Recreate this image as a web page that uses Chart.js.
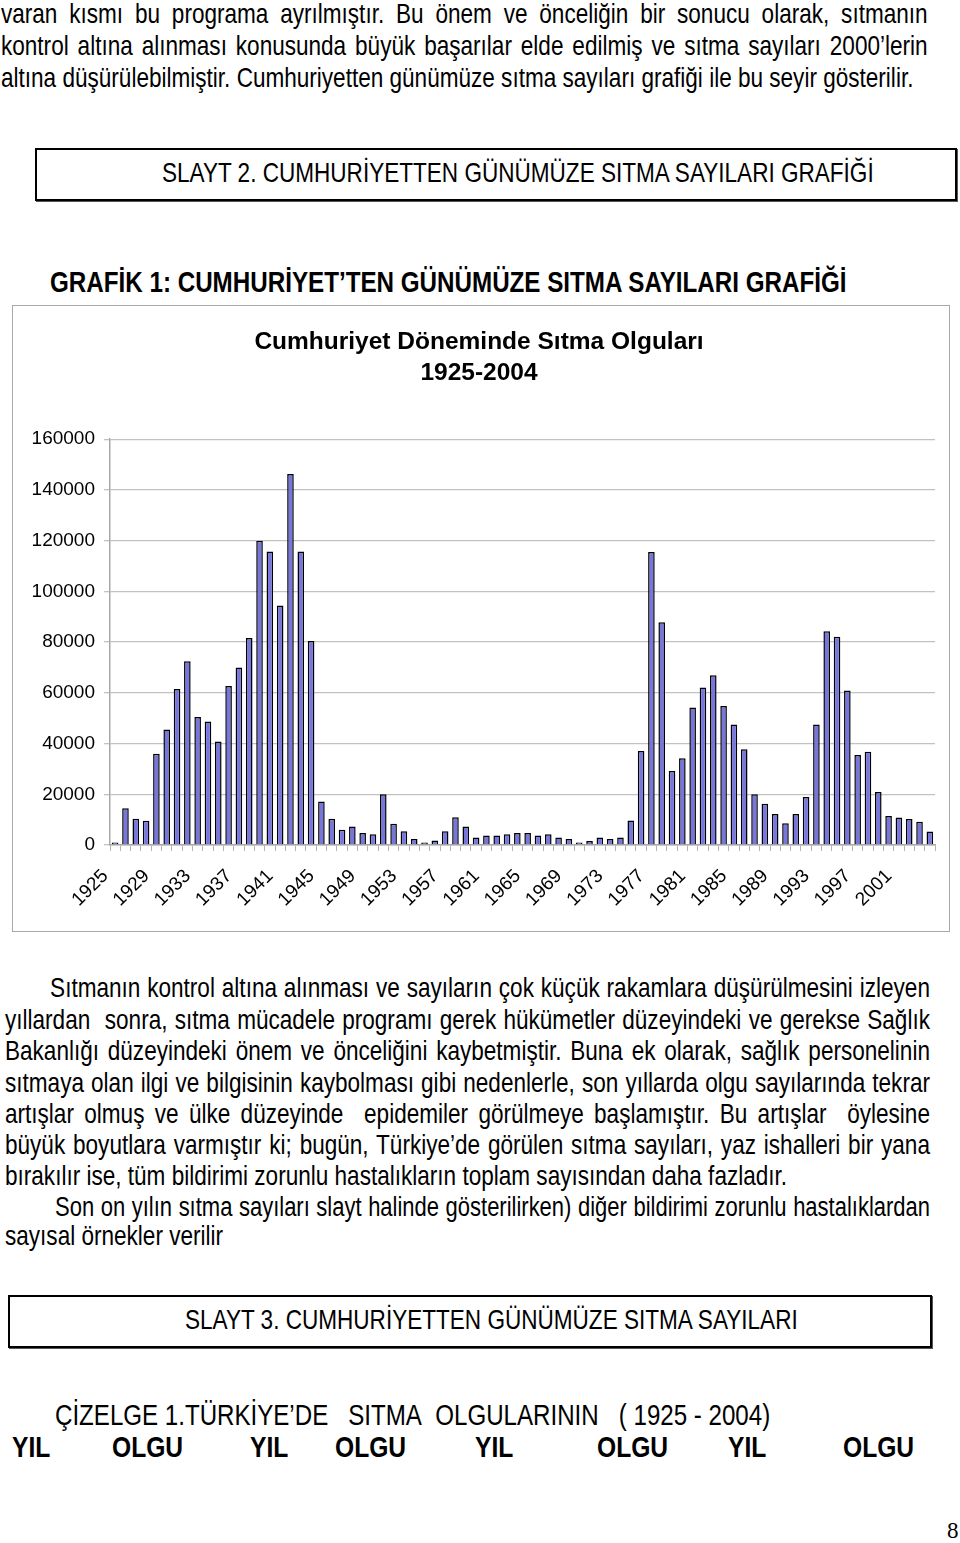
<!DOCTYPE html>
<html lang="tr">
<head>
<meta charset="UTF-8">
<title>Cumhuriyet Döneminde Sıtma Olguları</title>
<script src="https://cdn.jsdelivr.net/npm/chart.js@4.4.0/dist/chart.umd.min.js"></script>
<style>
  * { margin: 0; padding: 0; box-sizing: border-box; }
  html, body { width: 960px; height: 1543px; overflow: hidden; background: #fff; }
  body { position: relative; color: #000; }
  /* Arial Narrow yok: Liberation Sans yatayda daraltılıyor */
  .nar { font-family: "Liberation Sans", Arial, sans-serif; transform: scaleX(0.82); transform-origin: 0 0; }
  .ln { position: absolute; font-size: 27.5px; line-height: 32px; white-space: nowrap; }
  .j { text-align: justify; text-align-last: justify; white-space: normal; }
  .box { position: absolute; border: 2px solid #000; box-shadow: 1px 1px 0 #555; }
  .box span { position: absolute; top: 7px; font-size: 27.5px; line-height: 32px; white-space: nowrap; }
  .hd { position: absolute; font-size: 29.5px; font-weight: bold; white-space: nowrap; line-height: 32px; }
  #chartBox { position: absolute; left: 12px; top: 305px; width: 938px; height: 627px; border: 1px solid #a8a8a8; }
  .col { position: absolute; top: 1431px; font-size: 30px; font-weight: bold; line-height: 32px; }
  .pg { position: absolute; left: 947px; top: 1518px; font-family: "Liberation Serif", "DejaVu Serif", serif; font-size: 23px; }
</style>
</head>
<body>

<div class="ln nar j" style="left:1px; width:1130px; top:-2px;">varan kısmı bu programa ayrılmıştır. Bu önem ve önceliğin bir sonucu olarak, sıtmanın</div>
<div class="ln nar j" style="left:1px; width:1130px; top:30px;">kontrol altına alınması konusunda büyük başarılar elde edilmiş ve sıtma sayıları 2000’lerin</div>
<div class="ln nar" style="left:1px; top:62px;">altına düşürülebilmiştir. Cumhuriyetten günümüze sıtma sayıları grafiği ile bu seyir gösterilir.</div>

<div class="box" style="left:35px; top:148px; width:922px; height:53px;"><span class="nar" style="left:125px;">SLAYT 2. CUMHURİYETTEN GÜNÜMÜZE SITMA SAYILARI GRAFİĞİ</span></div>

<div class="hd nar" style="left:50px; top:266px;">GRAFİK 1: CUMHURİYET’TEN GÜNÜMÜZE SITMA SAYILARI GRAFİĞİ</div>

<div id="chartBox"><canvas id="malaria"></canvas></div>

<div class="ln nar j" style="left:5px; width:1128px; top:972px; text-indent:55px;">Sıtmanın kontrol altına alınması ve sayıların çok küçük rakamlara düşürülmesini izleyen</div>
<div class="ln nar j" style="left:5px; width:1128px; top:1004px;">yıllardan&nbsp; sonra, sıtma mücadele programı gerek hükümetler düzeyindeki ve gerekse Sağlık</div>
<div class="ln nar j" style="left:5px; width:1128px; top:1035px;">Bakanlığı düzeyindeki önem ve önceliğini kaybetmiştir. Buna ek olarak, sağlık personelinin</div>
<div class="ln nar j" style="left:5px; width:1128px; top:1067px;">sıtmaya olan ilgi ve bilgisinin kaybolması gibi nedenlerle, son yıllarda olgu sayılarında tekrar</div>
<div class="ln nar j" style="left:5px; width:1128px; top:1098px;">artışlar olmuş ve ülke düzeyinde&nbsp; epidemiler görülmeye başlamıştır. Bu artışlar&nbsp; öylesine</div>
<div class="ln nar j" style="left:5px; width:1128px; top:1129px;">büyük boyutlara varmıştır ki; bugün, Türkiye’de görülen sıtma sayıları, yaz ishalleri bir yana</div>
<div class="ln nar" style="left:5px; top:1160px;">bırakılır ise, tüm bildirimi zorunlu hastalıkların toplam sayısından daha fazladır.</div>
<div class="ln nar j" style="left:5px; width:1128px; top:1191px; text-indent:61px; font-size:26.8px;">Son on yılın sıtma sayıları slayt halinde gösterilirken) diğer bildirimi zorunlu hastalıklardan</div>
<div class="ln nar" style="left:5px; top:1220px;">sayısal örnekler verilir</div>

<div class="box" style="left:8px; top:1295px; width:924px; height:53px;"><span class="nar" style="left:175px;">SLAYT 3. CUMHURİYETTEN GÜNÜMÜZE SITMA SAYILARI</span></div>

<div class="ln nar" style="left:55px; top:1399px; font-size:29.4px;">ÇİZELGE 1.TÜRKİYE’DE&nbsp;&nbsp; SITMA&nbsp; OLGULARININ&nbsp;&nbsp; ( 1925 - 2004)</div>
<div class="col nar" style="left:12px;">YIL</div>
<div class="col nar" style="left:112px;">OLGU</div>
<div class="col nar" style="left:250px;">YIL</div>
<div class="col nar" style="left:335px;">OLGU</div>
<div class="col nar" style="left:475px;">YIL</div>
<div class="col nar" style="left:597px;">OLGU</div>
<div class="col nar" style="left:728px;">YIL</div>
<div class="col nar" style="left:843px;">OLGU</div>

<div class="pg">8</div>

<script>
// Yıllar (kategori ekseni)
const years = [
  1925, 1926, 1927, 1928, 1929, 1930, 1931, 1932, 1933, 1934,
  1935, 1936, 1937, 1938, 1939, 1940, 1941, 1942, 1943, 1944,
  1945, 1946, 1947, 1948, 1949, 1950, 1951, 1952, 1953, 1954,
  1955, 1956, 1957, 1958, 1959, 1960, 1961, 1962, 1963, 1964,
  1965, 1966, 1967, 1968, 1969, 1970, 1971, 1972, 1973, 1974,
  1975, 1976, 1977, 1978, 1979, 1980, 1981, 1982, 1983, 1984,
  1985, 1986, 1987, 1988, 1989, 1990, 1991, 1992, 1993, 1994,
  1995, 1996, 1997, 1998, 1999, 2000, 2001, 2002, 2003, 2004
];

// Sıtma olgu sayıları (grafikten okunan yaklaşık değerler)
const cases = [
  1000, 14500, 10300, 9600, 36000, 45500, 61500, 72500, 50500, 48700,
  40800, 62700, 70000, 81600, 120000, 115700, 94400, 146300, 115700, 80400,
  17100, 10300, 6000, 7300, 4700, 4200, 20000, 8400, 5400, 2400,
  1000, 1800, 5400, 10900, 7300, 3000, 3700, 3700, 4200, 4700,
  4700, 3700, 4200, 3000, 2400, 1000, 1600, 3000, 2400, 3000,
  9700, 37100, 115500, 87800, 29200, 34200, 54200, 62100, 66900, 54800,
  47500, 37800, 20000, 16300, 12200, 8600, 12200, 18900, 47500, 84300,
  82100, 60900, 35500, 36800, 20900, 11400, 10800, 10200, 9200, 5300
];

// Eksen ayarları
const yTicks = [0, 20000, 40000, 60000, 80000, 100000, 120000, 140000, 160000];
const labelEvery = 4;

const canvas = document.getElementById('malaria');
canvas.width = 936;
canvas.height = 625;
canvas.style.width = '936px';
canvas.style.height = '625px';

const axisFont = { family: '"Liberation Sans", Arial, sans-serif', size: 19 };

new Chart(canvas.getContext('2d'), {
  type: 'bar',
  data: {
    labels: years,
    datasets: [{
      label: 'Sıtma olguları',
      data: cases,
      backgroundColor: '#7676dc',
      borderColor: '#000',
      borderWidth: 1.5,
      barPercentage: 0.64,
      categoryPercentage: 1
    }]
  },
  options: {
    responsive: false,
    animation: false,
    layout: { padding: { left: 0, right: 4, top: 0, bottom: 6 } },
    plugins: {
      legend: { display: false },
      tooltip: { enabled: false },
      title: {
        display: true,
        text: ['Cumhuriyet Döneminde Sıtma Olguları', '1925-2004'],
        color: '#000',
        font: { family: '"Liberation Sans", Arial, sans-serif', size: 24.5, weight: 'bold', lineHeight: 1.27 },
        padding: { top: 21, bottom: 50 }
      }
    },
    scales: {
      x: {
        grid: { display: true, drawOnChartArea: false, drawTicks: true, tickLength: 6, color: '#b4b4b4', offset: true },
        border: { color: '#a8a8a8', width: 1.5 },
        afterFit: (axis) => { axis.paddingRight = 14; },
        ticks: {
          autoSkip: false,
          maxRotation: 45,
          minRotation: 45,
          padding: 14,
          labelOffset: -10,
          color: '#000',
          font: axisFont,
          callback: (v, i) => (i % labelEvery === 0 ? String(years[i]) : '')
        }
      },
      y: {
        min: yTicks[0],
        max: yTicks[yTicks.length - 1],
        grid: { color: '#c2c2c2', lineWidth: 1.3, tickLength: 6 },
        border: { color: '#a8a8a8', width: 1.5 },
        afterBuildTicks: (axis) => { axis.ticks = yTicks.map(v => ({ value: v })); },
        afterFit: (axis) => { axis.width = 97; },
        ticks: { padding: 9, color: '#000', font: axisFont, callback: (v) => String(v) }
      }
    }
  }
});
</script>
</body>
</html>
